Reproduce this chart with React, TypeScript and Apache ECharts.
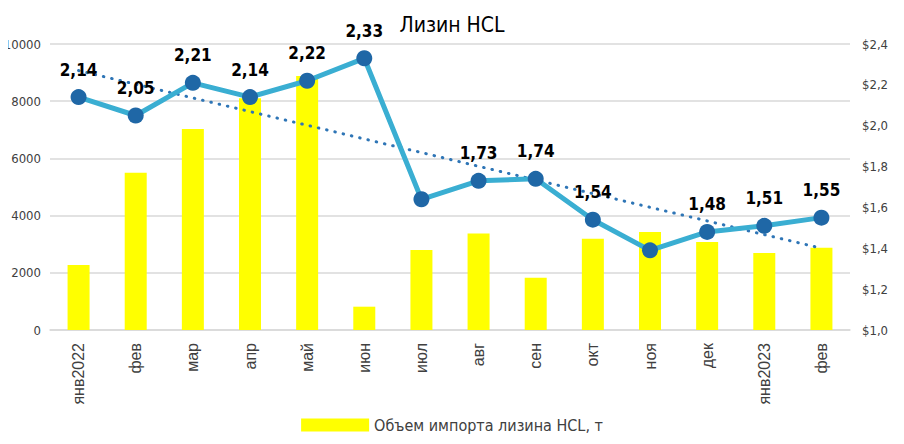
import React, { useEffect, useRef } from "react";
import * as echarts from "echarts";

const categories = ["янв2022", "фев", "мар", "апр", "май", "июн", "июл", "авг", "сен", "окт", "ноя", "дек", "янв2023", "фев"];
const volumes = [2270, 5500, 7030, 8100, 8880, 815, 2800, 3370, 1830, 3190, 3430, 3080, 2690, 2880];
const prices = [2.14, 2.05, 2.21, 2.14, 2.22, 2.33, 1.64, 1.73, 1.74, 1.54, 1.39, 1.48, 1.51, 1.55];
const priceLabelShown = [true, true, true, true, true, true, false, true, true, true, false, true, true, true];
const trendStart = 2.27;
const trendEnd = 1.40;
const leftTicks = [0, 2000, 4000, 6000, 8000, 10000];
const rightTicks = [1.0, 1.2, 1.4, 1.6, 1.8, 2.0, 2.2, 2.4];

const NARROW = "'Liberation Sans Narrow', 'DejaVu Sans Condensed', sans-serif";

export default function App() {
  const ref = useRef<HTMLDivElement>(null);
  useEffect(() => {
    if (!ref.current) return;
    const chart = echarts.init(ref.current, null, { renderer: "svg" });
    const trend = categories.map((_, i) => (i === 0 ? trendStart : i === categories.length - 1 ? trendEnd : null));
    chart.setOption({
      animation: false,
      title: {
        text: "Лизин HCL",
        left: "center",
        top: 9,
        textStyle: { fontFamily: NARROW, fontSize: 21, fontWeight: "normal", color: "#000" },
      },
      legend: {
        data: ["Объем импорта лизина HCL, т"],
        bottom: 6,
        left: "center",
        itemWidth: 68,
        itemHeight: 13,
        icon: "rect",
        textStyle: { fontFamily: NARROW, fontSize: 16, color: "#404040" },
      },
      grid: { left: 50, right: 54, top: 44, bottom: 114 },
      xAxis: {
        type: "category",
        data: categories,
        axisTick: { show: false },
        axisLine: { show: true, lineStyle: { color: "#d9d9d9", width: 1.5 } },
        axisLabel: { rotate: 90, margin: 13, fontSize: 16, color: "#404040", fontFamily: "'Liberation Sans', Arial, sans-serif" },
      },
      yAxis: [
        {
          type: "value",
          min: leftTicks[0],
          max: leftTicks[leftTicks.length - 1],
          interval: 2000,
          axisLine: { show: false },
          axisTick: { show: false },
          splitLine: { lineStyle: { color: "#d9d9d9", width: 1.5 } },
          axisLabel: { margin: 9, fontSize: 13, color: "#404040", fontFamily: NARROW, formatter: (v: number) => String(v) },
        },
        {
          type: "value",
          min: rightTicks[0],
          max: rightTicks[rightTicks.length - 1],
          interval: 0.2,
          axisLine: { show: false },
          axisTick: { show: false },
          splitLine: { show: false },
          axisLabel: {
            margin: 12,
            fontSize: 13,
            color: "#404040",
            fontFamily: NARROW,
            formatter: (v: number) => "$" + v.toFixed(1).replace(".", ","),
          },
        },
      ],
      series: [
        {
          name: "Объем импорта лизина HCL, т",
          type: "bar",
          data: volumes,
          barWidth: 22,
          itemStyle: { color: "#ffff00" },
          yAxisIndex: 0,
        },
        {
          name: "Цена",
          type: "line",
          yAxisIndex: 1,
          data: prices.map((v, i) => ({ value: v, label: { show: priceLabelShown[i] } })),
          symbol: "circle",
          symbolSize: 16,
          lineStyle: { color: "#3aaed2", width: 5 },
          itemStyle: { color: "#1f67a6" },
          label: {
            show: true,
            position: "top",
            distance: 11,
            fontFamily: NARROW,
            fontSize: 17,
            fontWeight: "bold",
            color: "#000",
            formatter: (p: any) => p.value.toFixed(2).replace(".", ","),
          },
          z: 5,
        },
        {
          name: "Тренд",
          type: "line",
          yAxisIndex: 1,
          data: trend,
          connectNulls: true,
          symbol: "none",
          lineStyle: { color: "#2e75b6", width: 3, type: [0.5, 8], cap: "round" },
          z: 4,
        },
      ],
    });
    return () => chart.dispose();
  }, []);
  return <div ref={ref} style={{ width: 904, height: 444, margin: -8 }} />;
}
